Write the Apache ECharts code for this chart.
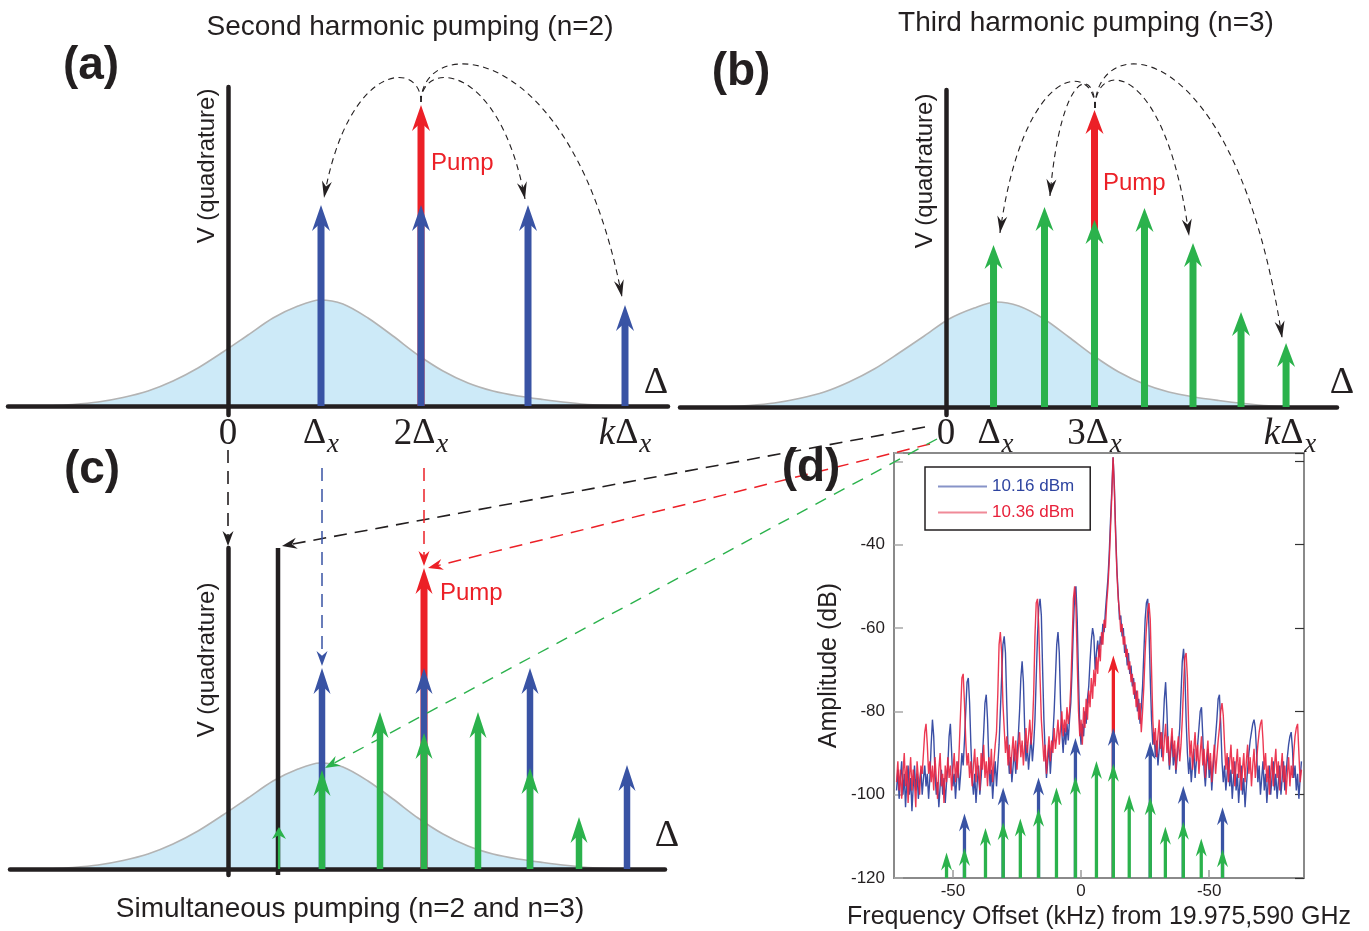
<!DOCTYPE html>
<html>
<head>
<meta charset="utf-8">
<script src="https://cdn.jsdelivr.net/npm/echarts@6/dist/echarts.min.js"></script>
<style>
  html, body { margin: 0; background: #fff; }
  #chart { width: 1369px; height: 931px; }
</style>
</head>
<body>
<div id="chart"></div>
<script>
// ---- panel (a): second harmonic pumping (x in ~Δx units, y arbitrary) ----
const gaussAC = [[-1.8, 0], [-1.55, 0.015], [-1.3, 0.04], [-1.05, 0.085], [-0.8, 0.15], [-0.55, 0.25], [-0.3, 0.38],
  [-0.05, 0.54], [0.2, 0.71], [0.45, 0.88], [0.7, 1.0], [0.92, 1.06], [1.15, 1.02], [1.4, 0.88], [1.65, 0.70],
  [1.9, 0.51], [2.15, 0.35], [2.4, 0.23], [2.65, 0.15], [2.9, 0.1], [3.15, 0.065], [3.4, 0.035], [3.65, 0.012], [3.9, 0]];
const aBlue = [[0.93, 2.01], [1.93, 2.01], [3.0, 2.01], [3.97, 1.01]];
const aRed = [[1.93, 3.01]];
// [x0, y0, x1, y1, arch height]
const aCurves = [[1.93, 3.04, 0.96, 2.08, 3.46], [1.93, 3.04, 2.97, 2.07, 3.46], [1.93, 3.04, 3.94, 1.09, 3.72]];
const aTicks = [0, 0.93, 1.93, 3.97];
const aTickLabels = ['{n|0}', '{d|Δ}{s|x}', '{n|2}{d|Δ}{s|x}', '{i|k}{d|Δ}{s|x}'];

// ---- panel (b): third harmonic pumping ----
const gaussB = [[-4.48, 0], [-3.98, 0.015], [-3.47, 0.04], [-2.97, 0.085], [-2.46, 0.15], [-1.96, 0.25], [-1.45, 0.38],
  [-0.95, 0.54], [-0.44, 0.71], [0.06, 0.88], [0.57, 0.99], [1.01, 1.05], [1.47, 1.01], [1.98, 0.88], [2.48, 0.70],
  [2.99, 0.51], [3.49, 0.35], [4.0, 0.23], [4.5, 0.15], [5.01, 0.1], [5.51, 0.065], [6.02, 0.035], [6.52, 0.012], [7.03, 0]];
const bGreen = [[0.96, 1.62], [1.99, 2.0], [3.0, 1.87], [4.01, 1.99], [4.99, 1.64], [5.96, 0.95], [6.87, 0.64]];
const bRed = [[3.0, 2.97]];
const bCurves = [[3.01, 2.99, 1.09, 1.74, 3.46], [3.01, 2.99, 2.1, 2.11, 3.4], [3.01, 2.99, 4.91, 1.71, 3.48], [3.01, 2.99, 6.79, 0.69, 3.78]];
const bTicks = [0, 1.0, 3.0, 6.95];
const bTickLabels = ['{n|0}', '{d|Δ}{s|x}', '{n|3}{d|Δ}{s|x}', '{i|k}{d|Δ}{s|x}'];

// ---- panel (c): simultaneous pumping ----
const cBlue = [[0.94, 2.01], [1.96, 2.01], [3.02, 2.01], [3.99, 1.04]];
const cRed = [[1.96, 3.01]];
const cGreen = [[0.94, 0.99], [1.52, 1.57], [1.96, 1.36], [2.5, 1.57], [3.02, 1.01], [3.51, 0.52]];
const cGreenSmall = [[0.51, 0.42]];
const cShiftedAxis = [[0.5, -0.06, 3.21]];
const cLinksBlack = [[0, 4.19, 0, 3.23], [6.97, 4.42, 0.54, 3.23]];
const cLinksBlue = [[0.94, 4.01, 0.94, 2.03]];
const cLinksRed = [[1.96, 4.01, 1.96, 3.03], [7.02, 4.25, 2.0, 3.01]];
const cLinksGreen = [[7.09, 4.30, 0.97, 1.01]];

// ---- panel (d): measured spectrum ----
const specStart = -72, specStep = 0.5;
const spec1016 = [ // blue, 10.16 dBm
  -99,-94,-101,-96,-92,-100,-95,-103,-97,-93,-100,-96,-104,-98,-93,-99,-95,-101,-97,-94,
  -100,-96,-93,-98,-95,-101,-96,-88,-82,-86,-95,-100,-97,-103,-98,-94,-100,-96,-102,-97,
  -93,-86,-83,-90,-98,-95,-101,-96,-92,-99,-95,-90,-93,-87,-80,-73,-72,-78,-88,-96,
  -100,-95,-102,-97,-93,-100,-96,-91,-85,-78,-76,-82,-92,-98,-94,-101,-96,-92,-98,-93,
  -88,-80,-72,-64,-62,-66,-78,-89,-95,-91,-97,-93,-89,-95,-91,-86,-80,-72,-68,-73,
  -84,-92,-88,-94,-90,-86,-92,-88,-82,-72,-62,-55,-53,-57,-70,-82,-90,-96,-92,-88,
  -95,-90,-86,-80,-72,-64,-61,-66,-78,-85,-90,-84,-88,-83,-87,-82,-78,-70,-60,-52,
  -50,-58,-72,-84,-88,-83,-86,-80,-83,-77,-74,-68,-63,-60,-62,-70,-66,-63,-67,-62,
  -64,-59,-61,-56,-52,-48,-42,-34,-27,-19,-26,-37,-46,-52,-58,-57,-62,-60,-66,-64,
  -69,-66,-71,-69,-74,-72,-77,-75,-80,-77,-83,-79,-74,-66,-58,-54,-53,-60,-72,-82,
  -88,-85,-91,-87,-93,-89,-85,-91,-84,-77,-73,-80,-89,-94,-90,-86,-93,-89,-95,-91,
  -88,-84,-76,-68,-65,-70,-82,-90,-95,-91,-97,-93,-89,-96,-92,-88,-84,-80,-79,-86,
  -94,-98,-93,-89,-96,-92,-99,-94,-90,-86,-82,-77,-76,-83,-92,-97,-93,-99,-95,-91,
  -98,-94,-101,-96,-92,-99,-95,-102,-97,-93,-100,-96,-103,-98,-94,-90,-87,-85,-83,-82,
  -84,-90,-97,-93,-100,-96,-92,-99,-95,-102,-97,-93,-100,-96,-92,-99,-95,-101,-97,-93,
  -100,-96,-92,-99,-95,-91,-88,-86,-85,-89,-96,-93,-99,-95,-101,-96,-92];
const spec1036 = [ // red, 10.36 dBm
  -97,-92,-99,-94,-101,-95,-90,-98,-93,-102,-96,-91,-99,-94,-97,-103,-92,-96,-100,-93,
  -95,-90,-85,-83,-88,-95,-92,-97,-93,-99,-91,-96,-101,-94,-90,-98,-95,-102,-93,-97,
  -91,-96,-93,-99,-94,-90,-97,-92,-96,-88,-80,-72,-71,-78,-87,-93,-90,-96,-92,-98,
  -93,-89,-97,-91,-95,-99,-90,-94,-88,-96,-92,-98,-91,-95,-89,-97,-92,-88,-85,-76,
  -64,-61,-66,-78,-84,-90,-86,-93,-88,-95,-90,-86,-92,-87,-94,-89,-85,-91,-87,-93,
  -88,-84,-90,-86,-82,-88,-84,-76,-62,-54,-53,-60,-72,-82,-87,-92,-88,-95,-90,-86,
  -92,-87,-90,-84,-89,-86,-82,-88,-84,-80,-86,-82,-85,-79,-83,-80,-74,-64,-53,-50,
  -55,-68,-80,-86,-82,-88,-79,-84,-77,-82,-75,-79,-72,-77,-70,-74,-67,-71,-64,-68,
  -61,-64,-58,-60,-54,-50,-44,-36,-28,-19,-27,-38,-47,-53,-56,-61,-59,-64,-62,-67,
  -65,-70,-68,-73,-71,-76,-73,-79,-75,-82,-78,-85,-80,-74,-66,-60,-56,-54,-58,-70,
  -82,-88,-84,-91,-86,-82,-89,-85,-92,-87,-83,-90,-86,-93,-88,-84,-91,-87,-94,-89,
  -86,-92,-88,-82,-74,-67,-66,-72,-84,-91,-87,-94,-89,-85,-92,-88,-95,-90,-86,-93,
  -89,-96,-91,-87,-94,-90,-97,-92,-88,-95,-91,-87,-84,-80,-78,-81,-88,-94,-90,-97,
  -92,-88,-95,-91,-98,-93,-89,-96,-91,-99,-94,-90,-97,-92,-88,-95,-91,-98,-93,-89,
  -96,-92,-88,-85,-83,-82,-87,-94,-90,-97,-93,-100,-95,-91,-98,-93,-89,-96,-92,-99,
  -94,-90,-97,-93,-100,-95,-91,-98,-93,-96,-90,-86,-84,-83,-90,-97,-94];
// comb markers drawn over the spectrum: [kHz, top dB]
const dGreen = [[-52.5, -113.9], [-45.5, -112.8], [-37.3, -108.0], [-30.4, -106.6], [-23.7, -105.7], [-16.6, -103.4],
  [-9.6, -98.3], [-2.2, -95.7], [6.0, -91.9], [12.6, -92.6], [18.8, -100.0], [27.0, -100.6], [32.9, -107.7],
  [39.9, -106.5], [46.9, -110.5], [55.2, -113.1]];
const dBlue = [[-45.5, -104.5], [-30.4, -98.3], [-16.6, -95.9], [-2.2, -86.4], [12.6, -84.0], [27.0, -87.3], [39.9, -97.9], [55.2, -103.0]];
const dRed = [[12.6, -66.6]];
const dTicks = [-50, 0, 50];
const dTickLabels = ['-50', '0', '-50']; // as printed in the original figure

const BLUE = '#3953a4', GREEN = '#2bb24c', RED = '#ec2027', INK = '#231f20';
const SANS = '"Liberation Sans", Arial, sans-serif';
const SERIF = '"Liberation Serif", "Times New Roman", serif';

function toPairs(arr) {
  return arr.map((v, i) => [specStart + i * specStep, v]);
}

function headPts(tip, ang, L, W) {
  const c = Math.cos(ang), s = Math.sin(ang);
  const bx = tip[0] - L * c, by = tip[1] - L * s;
  const nx = tip[0] - 0.68 * L * c, ny = tip[1] - 0.68 * L * s;
  return [tip, [bx - W / 2 * s, by + W / 2 * c], [nx, ny], [bx + W / 2 * s, by - W / 2 * c]];
}

// vertical arrows rising from a base value
function arrowSeries(g, data, color, base, shaft, headL, headW, z) {
  return {
    type: 'custom', coordinateSystem: 'cartesian2d', xAxisIndex: g, yAxisIndex: g,
    z: z, clip: false, silent: true, data: data,
    renderItem: function (params, api) {
      const p0 = api.coord([api.value(0), base]);
      const p1 = api.coord([api.value(0), api.value(1)]);
      const x = p1[0], t = p1[1];
      return {
        type: 'group', children: [
          { type: 'line', shape: { x1: x, y1: p0[1], x2: x, y2: t + headL * 0.6 }, style: { stroke: color, lineWidth: shaft } },
          { type: 'polygon', shape: { points: headPts([x, t], -Math.PI / 2, headL, headW) }, style: { fill: color } }
        ]
      };
    }
  };
}

// dashed arched arrows from the pump to the sidebands
function curveSeries(g, data) {
  return {
    type: 'custom', coordinateSystem: 'cartesian2d', xAxisIndex: g, yAxisIndex: g,
    z: 6, clip: false, silent: true, data: data,
    renderItem: function (params, api) {
      const x0 = api.value(0), y0 = api.value(1), x1 = api.value(2), y1 = api.value(3), yc = api.value(4);
      const p0 = api.coord([x0, y0]), p3 = api.coord([x1, y1]);
      const c1 = api.coord([x0, yc]), c2 = api.coord([x1 + (x0 - x1) * 0.25, yc]);
      const ang = Math.atan2(p3[1] - c2[1], p3[0] - c2[0]);
      return {
        type: 'group', children: [
          { type: 'bezierCurve', shape: { x1: p0[0], y1: p0[1], cpx1: c1[0], cpy1: c1[1], cpx2: c2[0], cpy2: c2[1], x2: p3[0], y2: p3[1] },
            style: { stroke: INK, lineWidth: 1.1, lineDash: [6, 4.5], fill: null } },
          { type: 'polygon', shape: { points: headPts(p3, ang, 17, 10) }, style: { fill: INK } }
        ]
      };
    }
  };
}

// straight dashed connectors with arrowheads
function linkSeries(g, data, color, dash, width) {
  return {
    type: 'custom', coordinateSystem: 'cartesian2d', xAxisIndex: g, yAxisIndex: g,
    z: 7, clip: false, silent: true, data: data,
    renderItem: function (params, api) {
      const p0 = api.coord([api.value(0), api.value(1)]);
      const p1 = api.coord([api.value(2), api.value(3)]);
      const ang = Math.atan2(p1[1] - p0[1], p1[0] - p0[0]);
      return {
        type: 'group', children: [
          { type: 'line', shape: { x1: p0[0], y1: p0[1], x2: p1[0] - 8 * Math.cos(ang), y2: p1[1] - 8 * Math.sin(ang) },
            style: { stroke: color, lineWidth: width, lineDash: dash } },
          { type: 'polygon', shape: { points: headPts(p1, ang, 15, 11) }, style: { fill: color } }
        ]
      };
    }
  };
}

function gaussSeries(g, data) {
  return {
    type: 'line', xAxisIndex: g, yAxisIndex: g, data: data, smooth: 0.3,
    symbol: 'none', z: 1, silent: true,
    lineStyle: { color: '#b3b3b3', width: 1.6 },
    areaStyle: { color: '#cdeaf8', opacity: 1 }
  };
}

const richTick = {
  n: { fontFamily: SERIF, fontSize: 37, color: INK, lineHeight: 44, verticalAlign: 'top' },
  d: { fontFamily: SERIF, fontSize: 36, color: INK, lineHeight: 44, verticalAlign: 'top' },
  i: { fontFamily: SERIF, fontSize: 37, fontStyle: 'italic', color: INK, lineHeight: 44, verticalAlign: 'top' },
  s: { fontFamily: SERIF, fontSize: 27, fontStyle: 'italic', color: INK, lineHeight: 44, verticalAlign: 'top', padding: [15, 0, 0, 1] }
};

function schemX(g, min, max, ticks, labels) {
  return {
    gridIndex: g, type: 'value', min: min, max: max, z: 3,
    axisLine: { show: true, onZero: true, lineStyle: { color: INK, width: 4.5 } },
    axisTick: { show: false, customValues: ticks || [] },
    splitLine: { show: false },
    axisLabel: ticks ? {
      show: true, customValues: ticks, margin: 1, rich: richTick,
      formatter: v => labels[ticks.indexOf(v)] || ''
    } : { show: false }
  };
}
function schemY(g, min, max) {
  return {
    gridIndex: g, type: 'value', min: min, max: max, z: 3,
    axisLine: { show: true, onZero: true, lineStyle: { color: INK, width: 4.5 } },
    axisTick: { show: false }, splitLine: { show: false }, axisLabel: { show: false }
  };
}

function txt(x, y, text, font, color, align, rot) {
  return {
    type: 'text', x: x, y: y, rotation: rot || 0, z: 20, silent: true,
    style: { text: text, font: font, fill: color || INK, align: align || 'center', verticalAlign: 'middle' }
  };
}

const option = {
  animation: false,
  backgroundColor: '#fff',
  grid: [
    { left: 8, top: 87, width: 660, height: 328 },
    { left: 680, top: 90, width: 657, height: 325 },
    { left: 10, top: 548, width: 655, height: 327 },
    { left: 894, top: 453, right: 65, bottom: 43, show: true, borderColor: '#8a8a8a', borderWidth: 2, backgroundColor: 'transparent' }
  ],
  xAxis: [
    schemX(0, -2.2, 4.4, aTicks, aTickLabels),
    schemX(1, -5.374, 7.899, bTicks, bTickLabels),
    schemX(2, -2.18, 4.37, null, null),
    {
      gridIndex: 3, type: 'value', min: -73, max: 87,
      axisLine: { show: true, onZero: false, lineStyle: { color: '#8a8a8a', width: 2 } },
      axisTick: { show: true, inside: true, length: 8, customValues: dTicks, lineStyle: { color: '#9a9a9a', width: 1.5 } },
      axisLabel: { show: true, customValues: dTicks, margin: 5, fontFamily: SANS, fontSize: 17, color: INK,
        formatter: v => dTickLabels[dTicks.indexOf(v)] },
      splitLine: { show: false },
      name: 'Frequency Offset (kHz) from 19.975,590 GHz', nameLocation: 'middle', nameGap: 27,
      nameTextStyle: { fontFamily: SANS, fontSize: 25, color: INK }
    }
  ],
  yAxis: [
    schemY(0, -0.09, 3.19),
    schemY(1, -0.08, 3.17),
    schemY(2, -0.06, 3.21),
    {
      gridIndex: 3, type: 'value', min: -120, max: -18, interval: 20,
      axisLine: { show: true, onZero: false, lineStyle: { color: '#8a8a8a', width: 2 } },
      axisTick: { show: true, inside: true, length: 9, lineStyle: { color: '#a8a8a8', width: 1.5 } },
      axisLabel: { show: true, margin: 9, fontFamily: SANS, fontSize: 17, color: INK, formatter: v => (v > -30 ? '' : String(v)) },
      splitLine: { show: false },
      name: 'Amplitude (dB)', nameLocation: 'middle', nameGap: 52,
      nameTextStyle: { fontFamily: SANS, fontSize: 25, color: INK }
    },
    {
      gridIndex: 3, type: 'value', min: -120, max: -18, interval: 20, position: 'right',
      axisLine: { show: true, onZero: false, lineStyle: { color: '#8a8a8a', width: 2 } },
      axisTick: { show: true, inside: true, length: 9, lineStyle: { color: '#333', width: 1.2 } },
      axisLabel: { show: false }, splitLine: { show: false }
    }
  ],
  legend: {
    show: true, left: 925, top: 467, orient: 'vertical',
    borderColor: INK, borderWidth: 1.5, padding: [11, 16, 9, 13], itemGap: 9,
    itemWidth: 49, itemHeight: 2, icon: 'rect',
    textStyle: { fontFamily: SANS, fontSize: 17 },
    data: [
      { name: '10.16 dBm', textStyle: { color: '#2e44a0' }, itemStyle: { color: '#8793c8' } },
      { name: '10.36 dBm', textStyle: { color: '#e8203a' }, itemStyle: { color: '#f08a98' } }
    ]
  },
  series: [
    // (a)
    gaussSeries(0, gaussAC),
    arrowSeries(0, aRed, RED, 0, 7, 26, 18, 4),
    arrowSeries(0, aBlue, BLUE, 0, 7, 26, 18, 5),
    curveSeries(0, aCurves),
    // (b)
    gaussSeries(1, gaussB),
    arrowSeries(1, bRed, RED, 0, 7, 24, 18, 4),
    arrowSeries(1, bGreen, GREEN, 0, 7, 24, 18, 5),
    curveSeries(1, bCurves),
    // (c)
    gaussSeries(2, gaussAC),
    {
      type: 'custom', coordinateSystem: 'cartesian2d', xAxisIndex: 2, yAxisIndex: 2, z: 3, clip: false, silent: true,
      data: cShiftedAxis,
      renderItem: function (params, api) {
        const p0 = api.coord([api.value(0), api.value(1)]), p1 = api.coord([api.value(0), api.value(2)]);
        return { type: 'line', shape: { x1: p0[0], y1: p0[1], x2: p1[0], y2: p1[1] }, style: { stroke: INK, lineWidth: 4.5 } };
      }
    },
    arrowSeries(2, cRed, RED, 0, 7, 26, 17, 4),
    arrowSeries(2, cBlue, BLUE, 0, 6.5, 26, 17, 5),
    arrowSeries(2, cGreen, GREEN, 0, 6.5, 26, 17, 6),
    arrowSeries(2, cGreenSmall, GREEN, 0, 2.2, 12, 14, 6),
    linkSeries(2, cLinksBlack, INK, [13, 8], 1.6),
    linkSeries(2, cLinksBlue, BLUE, [13, 8], 1.5),
    linkSeries(2, cLinksRed, RED, [13, 8], 1.5),
    linkSeries(2, cLinksGreen, GREEN, [12, 9], 1.4),
    // (d)
    {
      name: '10.16 dBm', type: 'line', xAxisIndex: 3, yAxisIndex: 3, data: toPairs(spec1016),
      symbol: 'none', z: 2, silent: true, color: '#3b4fa5',
      lineStyle: { color: '#3b4fa5', width: 1.4 }
    },
    {
      name: '10.36 dBm', type: 'line', xAxisIndex: 3, yAxisIndex: 3, data: toPairs(spec1036),
      symbol: 'none', z: 3, silent: true, color: '#ea2440',
      lineStyle: { color: '#ea2440', width: 1.4, opacity: 0.9 }
    },
    arrowSeries(3, dRed, RED, -120, 3.3, 18, 11, 5),
    arrowSeries(3, dBlue, BLUE, -120, 3.3, 18, 11, 6),
    arrowSeries(3, dGreen, GREEN, -120, 3.3, 18, 11, 7)
  ],
  graphic: [
    txt(410, 27, 'Second harmonic pumping (n=2)', '28px ' + SANS),
    txt(1086, 23, 'Third harmonic pumping (n=3)', '28px ' + SANS),
    txt(350, 909, 'Simultaneous pumping (n=2 and n=3)', '28px ' + SANS),
    txt(91, 66, '(a)', 'bold 46px ' + SANS),
    txt(741, 72, '(b)', 'bold 46px ' + SANS),
    txt(92, 470, '(c)', 'bold 46px ' + SANS),
    txt(811, 468, '(d)', 'bold 46px ' + SANS),
    txt(431, 163, 'Pump', '24px ' + SANS, RED, 'left'),
    txt(1103, 183, 'Pump', '24px ' + SANS, RED, 'left'),
    txt(440, 593, 'Pump', '24px ' + SANS, RED, 'left'),
    txt(207, 166, 'V (quadrature)', '24px ' + SANS, INK, 'center', Math.PI / 2),
    txt(925, 171, 'V (quadrature)', '24px ' + SANS, INK, 'center', Math.PI / 2),
    txt(207, 660, 'V (quadrature)', '24px ' + SANS, INK, 'center', Math.PI / 2),
    txt(656, 383, 'Δ', '38px ' + SERIF),
    txt(1342, 383, 'Δ', '38px ' + SERIF),
    txt(667, 836, 'Δ', '38px ' + SERIF)
  ]
};

const chart = echarts.init(document.getElementById('chart'));
chart.setOption(option);
</script>
</body>
</html>
